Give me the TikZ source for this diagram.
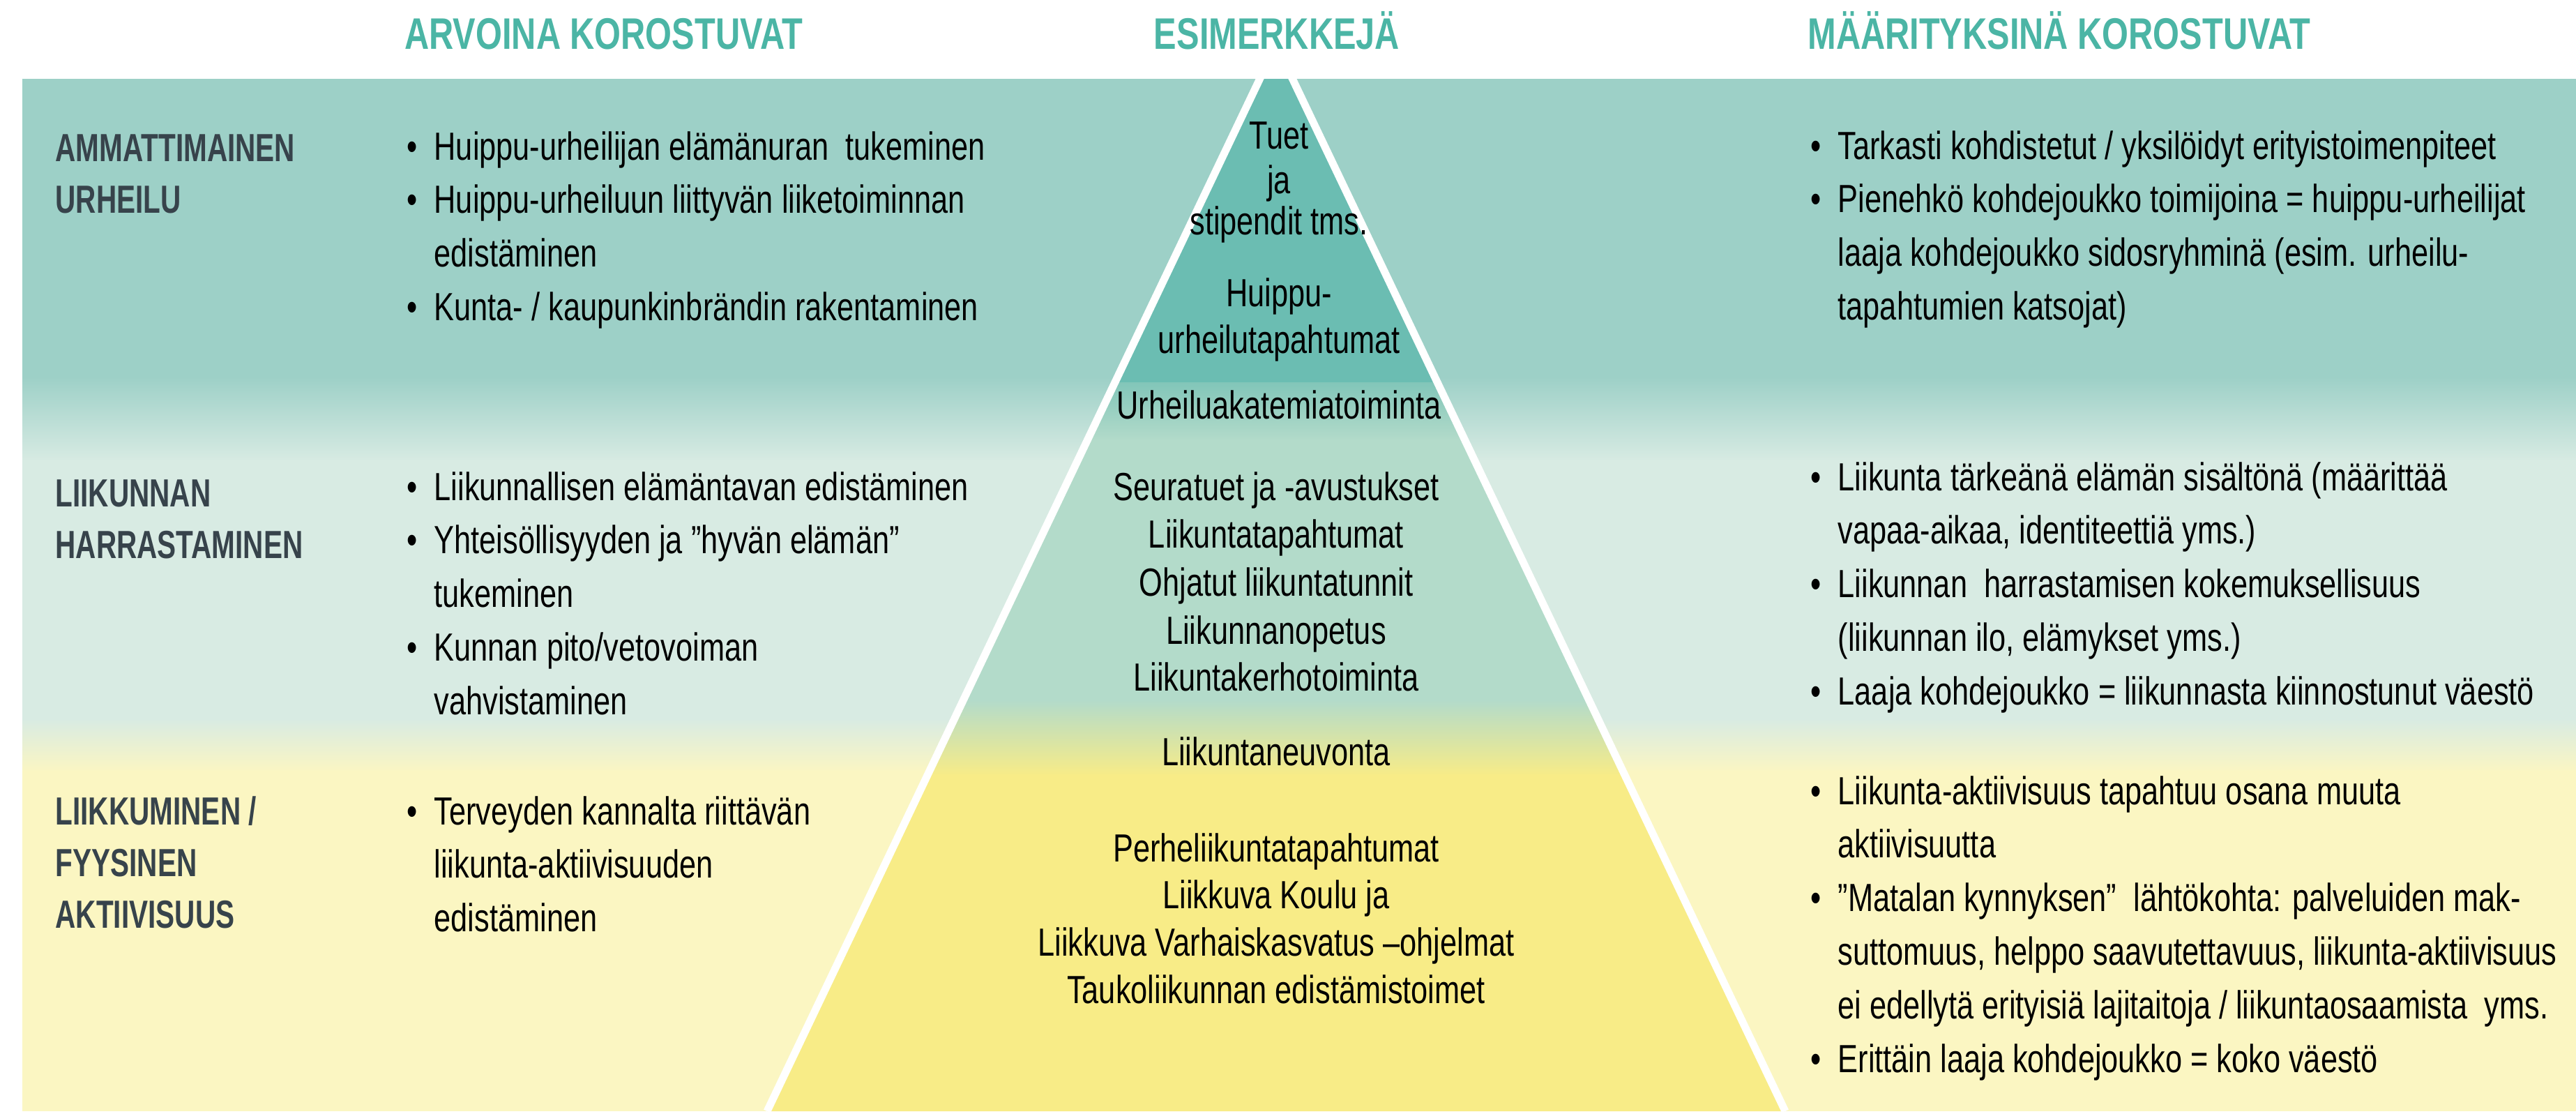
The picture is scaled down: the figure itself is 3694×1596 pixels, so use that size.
\documentclass[tikz,border=0pt]{standalone}
\usepackage{fontspec}
\setmainfont{Liberation Sans}[FakeStretch=0.77]
\newfontfamily\labfont{Liberation Sans}[FakeStretch=0.72]
\definecolor{panteal}{HTML}{9DD0C7}
\definecolor{panmid}{HTML}{D8EBE3}
\definecolor{panyel}{HTML}{FBF6C2}
\definecolor{pyrdark}{HTML}{6BBDB2}
\definecolor{pyrtop}{HTML}{82C6B9}
\definecolor{pyrmid}{HTML}{B3DBCA}
\definecolor{pyryel}{HTML}{F8EC87}
\definecolor{headteal}{HTML}{4BB5A5}
\definecolor{labgray}{HTML}{37434B}
\newcommand\bitem{\par\noindent\hangindent=3.9mm\hangafter=1\makebox[3.9mm][l]{\textbullet}}
\newcommand\nl{\hfil\break}
\newcommand\blk[2]{\begin{minipage}[t]{#1}\raggedright\parindent=0pt\parskip=0pt\hyphenpenalty=10000 #2\end{minipage}}
\tikzset{
  body/.style={anchor=base west, inner sep=0pt, font=\fontsize{16}{21.85}\selectfont, text=black},
  head/.style={anchor=base, inner sep=0pt, font=\fontsize{18}{20}\selectfont\bfseries, text=headteal},
  lab/.style={anchor=base west, inner sep=0pt, font=\labfont\fontsize{16}{21.05}\selectfont\bfseries, text=labgray},
  pyr/.style={anchor=base, inner sep=0pt, font=\fontsize{16}{19}\selectfont, text=black},
}
\begin{document}
\begin{tikzpicture}[x=0.01cm,y=-0.01cm]
\useasboundingbox (0,0) rectangle (3694,1596);
\fill[white] (0,0) rectangle (3694,1596);
% background bands
\fill[panteal] (32,113) rectangle (3694,542);
\shade[top color=panteal,bottom color=panmid] (32,540) rectangle (3694,662);
\fill[panmid] (32,660) rectangle (3694,1032);
\shade[top color=panmid,bottom color=panyel] (32,1030) rectangle (3694,1107);
\fill[panyel] (32,1105) rectangle (3694,1593);
% pyramid
\begin{scope}
  \clip (1830,64) -- (2560,1593) -- (1100,1593) -- cycle;
  \clip (0,113) rectangle (3694,1593);
  \fill[pyrdark] (1000,100) rectangle (2700,550);
  \shade[top color=pyrtop,bottom color=pyrmid] (1000,548) rectangle (2700,632);
  \fill[pyrmid] (1000,630) rectangle (2700,1006);
  \shade[top color=pyrmid,bottom color=pyryel] (1000,1004) rectangle (2700,1112);
  \fill[pyryel] (1000,1110) rectangle (2700,1600);
\end{scope}
\begin{scope}
  \clip (0,113) rectangle (3694,1593);
  \draw[white,line width=3.1pt] (1100,1593) -- (1830,64) -- (2560,1593);
\end{scope}
% headers
\node[head] (h1) at (866,70) {ARVOINA KOROSTUVAT};
\node[head] (h2) at (1831,70) {ESIMERKKEJÄ};
\node[head] (h3) at (2953,70) {MÄÄRITYKSINÄ KOROSTUVAT};
% row labels
\node[lab] (r1) at (79,231) {\blk{5cm}{AMMATTIMAINEN\\URHEILU}};
\node[lab] (r2) at (79,726) {\blk{5cm}{LIIKUNNAN\\HARRASTAMINEN}};
\node[lab] (r3) at (79,1182) {\blk{5cm}{LIIKKUMINEN /\\FYYSINEN\\AKTIIVISUUS}};
% left column
\node[body] (a1) at (583,229) {\blk{11cm}{%
\bitem Huippu-urheilijan elämänuran~ tukeminen
\bitem Huippu-urheiluun liittyvän liiketoiminnan\nl edistäminen
\bitem Kunta- / kaupunkinbrändin rakentaminen}};
\node[body] (a2) at (583,717) {\blk{11cm}{%
\bitem Liikunnallisen elämäntavan edistäminen
\bitem Yhteisöllisyyden ja ”hyvän elämän”\nl tukeminen
\bitem Kunnan pito/vetovoiman\nl vahvistaminen}};
\node[body] (a3) at (583,1182) {\blk{11cm}{%
\bitem Terveyden kannalta riittävän\nl liikunta-aktiivisuuden\nl edistäminen}};
% right column
\node[body] (m1) at (2596,228) {\blk{11.5cm}{%
\bitem Tarkasti kohdistetut / yksilöidyt erityistoimenpiteet
\bitem Pienehkö kohdejoukko toimijoina = huippu-urheilijat\nl laaja kohdejoukko sidosryhminä (esim. urheilu-\nl tapahtumien katsojat)}};
\node[body] (m2) at (2596,703) {\blk{11.5cm}{%
\bitem Liikunta tärkeänä elämän sisältönä (määrittää\nl vapaa-aikaa, identiteettiä yms.)
\bitem Liikunnan~ harrastamisen kokemuksellisuus\nl (liikunnan ilo, elämykset yms.)
\bitem Laaja kohdejoukko = liikunnasta kiinnostunut väestö}};
\node[body] (m3) at (2596,1153) {\blk{11.5cm}{%
\bitem Liikunta-aktiivisuus tapahtuu osana muuta\nl aktiivisuutta
\bitem ”Matalan kynnyksen”~ lähtökohta: palveluiden mak-\nl suttomuus, helppo saavutettavuus, liikunta-aktiivisuus\nl ei edellytä erityisiä lajitaitoja / liikuntaosaamista~ yms.
\bitem Erittäin laaja kohdejoukko = koko väestö}};
% pyramid texts
\node[pyr] (p1) at (1834,213) {Tuet};
\node[pyr] (p2) at (1834,277) {ja};
\node[pyr] (p3) at (1834,336) {stipendit tms.};
\node[pyr] (p4) at (1834,439) {Huippu-};
\node[pyr] (p5) at (1834,506) {urheilutapahtumat};
\node[pyr] (p6) at (1834,600) {Urheiluakatemiatoiminta};
\node[pyr] (p7) at (1830,717) {Seuratuet ja -avustukset};
\node[pyr] (p8) at (1830,785) {Liikuntatapahtumat};
\node[pyr] (p9) at (1830,854) {Ohjatut liikuntatunnit};
\node[pyr] (p10) at (1830,923) {Liikunnanopetus};
\node[pyr] (p11) at (1830,990) {Liikuntakerhotoiminta};
\node[pyr] (p12) at (1830,1097) {Liikuntaneuvonta};
\node[pyr] (p13) at (1830,1235) {Perheliikuntatapahtumat};
\node[pyr] (p14) at (1830,1302) {Liikkuva Koulu ja};
\node[pyr] (p15) at (1830,1370) {Liikkuva Varhaiskasvatus –ohjelmat};
\node[pyr] (p16) at (1830,1438) {Taukoliikunnan edistämistoimet};
\end{tikzpicture}
\end{document}
